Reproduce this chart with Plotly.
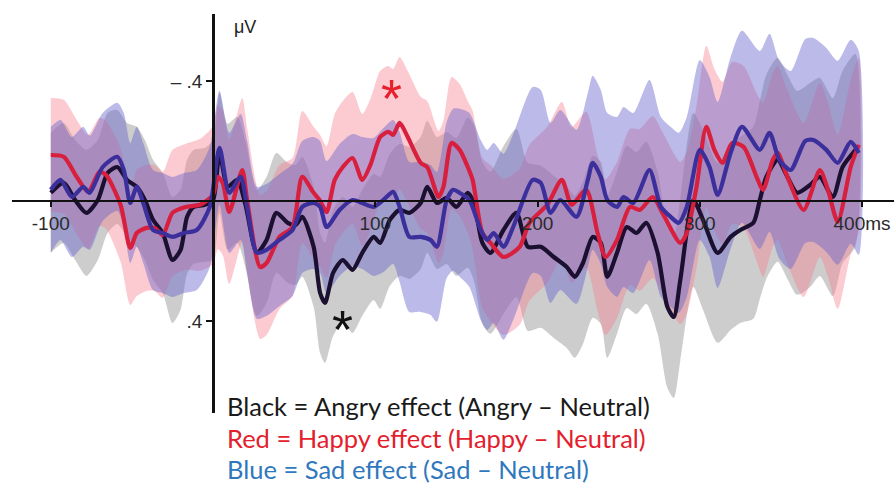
import plotly.graph_objects as go

# ---------------- data (ms, microvolts; positive plotted downward) ----------------
t_angry = [-100, -92, -85, -78, -71, -65, -59, -53, -47, -42,
           -37, -31, -25, -20, -16, -12, -5, 0, 4, 9,
           15, 20, 27, 33, 39, 46, 51, 55, 62, 66,
           69, 74, 80, 86, 92, 99, 103, 109, 115, 121,
           128, 132, 138, 144, 150, 157, 161, 166, 171, 179,
           187, 194, 202, 210, 218, 223, 228, 234, 239, 243,
           249, 255, 261, 267, 274, 280, 284, 288, 296, 302,
           311, 319, 325, 333, 337, 341, 348, 354, 360, 368,
           374, 382, 388, 396]
angry = [-0.027, -0.06, -0.003, 0.04, -0.003, -0.093, -0.113, -0.07, -0.047, -0.003,
         0.063, 0.107, 0.197, 0.163, 0.053, 0.02, 0.013, -0.003, -0.16, -0.047,
         -0.07, 0.013, 0.173, 0.13, 0.04, 0.073, 0.08, 0.053, 0.153, 0.307,
         0.34, 0.24, 0.197, 0.23, 0.173, 0.12, 0.14, 0.063, 0.03, 0.04,
         0.007, -0.047, 0.007, -0.01, 0.02, -0.027, 0.01, 0.14, 0.173, 0.097,
         0.04, 0.153, 0.153, 0.187, 0.22, 0.253, 0.207, 0.12, 0.14, 0.253,
         0.173, 0.087, 0.107, 0.073, 0.173, 0.353, 0.387, 0.263, -0.003, 0.063,
         0.173, 0.12, 0.097, 0.073, -0.003, -0.08, -0.137, -0.08, -0.027, -0.053,
         -0.08, -0.013, -0.113, -0.17]
angry_se = [0.20, 0.20, 0.20, 0.21, 0.20, 0.20, 0.19, 0.19, 0.20, 0.20,
            0.20, 0.20, 0.21, 0.20, 0.19, 0.19, 0.19, 0.20, 0.20, 0.21,
            0.21, 0.21, 0.21, 0.21, 0.20, 0.20, 0.20, 0.20, 0.20, 0.20,
            0.20, 0.21, 0.21, 0.21, 0.21, 0.21, 0.22, 0.22, 0.22, 0.22,
            0.22, 0.22, 0.22, 0.22, 0.23, 0.25, 0.26, 0.27, 0.27, 0.28,
            0.28, 0.28, 0.27, 0.27, 0.27, 0.27, 0.27, 0.27, 0.27, 0.27,
            0.27, 0.27, 0.27, 0.27, 0.27, 0.27, 0.27, 0.27, 0.29, 0.30,
            0.30, 0.31, 0.31, 0.32, 0.33, 0.34, 0.34, 0.34, 0.34, 0.34,
            0.33, 0.33, 0.32, 0.32]

t_happy = [-100, -92, -84, -77, -70, -66, -57, -51, -47, -41,
           -36, -31, -25, -17, -8, 0, 3, 6, 10, 18,
           21, 29, 33, 41, 49, 55, 62, 66, 70, 75,
           80, 86, 92, 97, 103, 108, 111, 115, 120, 128,
           132, 139, 142, 147, 152, 157, 160, 166, 171, 179,
           189, 195, 206, 215, 221, 230, 237, 242, 249, 257,
           263, 271, 277, 288, 292, 298, 304, 309, 314, 320,
           327, 335, 339, 345, 348, 354, 364, 374, 379, 385,
           393, 398]
happy = [-0.153, -0.147, -0.08, -0.03, -0.097, -0.087, 0.013, 0.157, 0.107, 0.09,
         0.09, 0.113, 0.04, 0.02, 0.013, -0.02, -0.08, -0.06, 0.037, -0.103,
         -0.003, 0.22, 0.207, 0.12, 0.087, -0.08, -0.027, 0.0, 0.037, -0.07,
         -0.113, -0.143, -0.07, -0.12, -0.213, -0.23, -0.22, -0.26, -0.213, -0.127,
         -0.113, -0.013, -0.047, -0.193, -0.17, -0.113, -0.07, 0.107, 0.14, 0.187,
         0.153, 0.073, 0.013, -0.07, 0.013, -0.037, 0.107, 0.187, 0.13, 0.02,
         0.03, -0.013, 0.04, 0.14, 0.107, -0.047, -0.247, -0.17, -0.127, -0.193,
         -0.18, -0.08, -0.037, -0.137, -0.16, -0.08, 0.03, -0.103, -0.037, 0.07,
         -0.113, -0.187]
happy_se = [0.19, 0.19, 0.19, 0.19, 0.18, 0.18, 0.19, 0.19, 0.21, 0.21,
            0.21, 0.21, 0.21, 0.21, 0.22, 0.23, 0.24, 0.24, 0.24, 0.24,
            0.24, 0.24, 0.24, 0.24, 0.23, 0.22, 0.22, 0.22, 0.22, 0.22,
            0.22, 0.22, 0.22, 0.22, 0.22, 0.22, 0.22, 0.22, 0.22, 0.22,
            0.22, 0.22, 0.22, 0.22, 0.22, 0.22, 0.23, 0.25, 0.26, 0.26,
            0.26, 0.26, 0.26, 0.26, 0.26, 0.26, 0.26, 0.26, 0.26, 0.26,
            0.27, 0.27, 0.27, 0.27, 0.27, 0.27, 0.27, 0.27, 0.27, 0.27,
            0.27, 0.28, 0.29, 0.29, 0.29, 0.29, 0.29, 0.29, 0.29, 0.29,
            0.29, 0.29]

t_sad = [-100, -94, -87, -80, -76, -68, -59, -55, -51, -47,
         -43, -37, -31, -25, -18, -10, -2, 4, 10, 17,
         21, 27, 33, 41, 49, 55, 62, 66, 70, 78,
         86, 92, 99, 105, 111, 115, 121, 128, 134, 138,
         144, 148, 152, 158, 165, 169, 173, 179, 185, 197,
         202, 208, 214, 224, 231, 234, 239, 243, 249, 253,
         259, 269, 276, 282, 287, 292, 300, 306, 311, 319,
         326, 337, 343, 349, 356, 365, 370, 378, 385, 393,
         398]
sad = [-0.037, -0.07, -0.013, -0.047, -0.027, -0.113, -0.147, -0.103, 0.007, -0.047,
       0.007, 0.097, 0.107, 0.12, 0.107, 0.097, 0.02, -0.177, -0.027, -0.08,
       0.02, 0.173, 0.163, 0.13, 0.097, 0.02, 0.007, 0.02, 0.087, 0.03,
       -0.003, 0.007, 0.02, -0.003, -0.03, 0.02, 0.12, 0.12, 0.13, 0.153,
       -0.003, -0.037, -0.027, -0.003, 0.097, 0.13, 0.107, 0.153, 0.087, -0.07,
       -0.06, 0.04, -0.003, 0.053, -0.07, -0.127, -0.08, -0.003, 0.02, -0.013,
       0.007, -0.103, 0.02, 0.053, 0.073, 0.02, -0.17, -0.113, -0.02, -0.16,
       -0.247, -0.17, -0.227, -0.137, -0.103, -0.2, -0.203, -0.17, -0.127, -0.197,
       -0.16]
sad_se = [0.21, 0.20, 0.20, 0.20, 0.19, 0.18, 0.18, 0.19, 0.20, 0.20,
          0.20, 0.20, 0.20, 0.20, 0.20, 0.20, 0.20, 0.19, 0.20, 0.21,
          0.22, 0.22, 0.22, 0.22, 0.22, 0.22, 0.22, 0.22, 0.22, 0.22,
          0.22, 0.22, 0.23, 0.24, 0.24, 0.25, 0.25, 0.25, 0.25, 0.25,
          0.26, 0.27, 0.28, 0.29, 0.30, 0.30, 0.30, 0.31, 0.31, 0.31,
          0.31, 0.30, 0.30, 0.29, 0.29, 0.29, 0.29, 0.29, 0.30, 0.30,
          0.30, 0.30, 0.30, 0.30, 0.30, 0.30, 0.30, 0.30, 0.31, 0.32,
          0.32, 0.33, 0.33, 0.33, 0.33, 0.34, 0.34, 0.34, 0.34, 0.34,
          0.34]

x_tick_vals = [-100, 100, 200, 300, 400]
x_tick_text = ["-100", "100", "200", "300", "400ms"]
y_tick_vals = [-0.4, 0.4]
y_tick_text = ["\u2013 .4", ".4"]

legend_lines = [
    ("Black = Angry effect (Angry \u2013 Neutral)", "#1a1a1a"),
    ("Red = Happy effect (Happy \u2013 Neutral)", "#e3202c"),
    ("Blue = Sad effect (Sad \u2013 Neutral)", "#2f78bd"),
]

# ---------------- styles ----------------
W, H = 894, 489
BAND = {"angry": "rgba(145,145,145,0.45)", "happy": "rgba(246,125,140,0.40)",
        "sad": "rgba(100,95,205,0.43)"}
LINE = {"angry": "#1c1030", "happy": "#d81f3d", "sad": "#3b2f9c"}


def band(t, v, se, color):
    up = [a - s for a, s in zip(v, se)]
    lo = [a + s for a, s in zip(v, se)]
    return go.Scatter(x=list(t) + list(t[::-1]), y=up + lo[::-1], mode="lines",
                      fill="toself", fillcolor=color,
                      line=dict(width=0, shape="spline", smoothing=0.7),
                      hoverinfo="skip", showlegend=False)


def line(t, v, color):
    return go.Scatter(x=t, y=v, mode="lines",
                      line=dict(color=color, width=4.2, shape="spline", smoothing=0.7),
                      hoverinfo="skip", showlegend=False)


fig = go.Figure()
fig.add_trace(band(t_angry, angry, angry_se, BAND["angry"]))
fig.add_trace(band(t_happy, happy, happy_se, BAND["happy"]))
fig.add_trace(band(t_sad, sad, sad_se, BAND["sad"]))
fig.add_trace(line(t_angry, angry, LINE["angry"]))
fig.add_trace(line(t_happy, happy, LINE["happy"]))
fig.add_trace(line(t_sad, sad, LINE["sad"]))

axis_font = dict(family="Liberation Sans, Arial, sans-serif", size=19, color="#2a2a2a")

fig.update_layout(
    width=W, height=H, margin=dict(l=0, r=0, t=0, b=0, autoexpand=False),
    paper_bgcolor="white", plot_bgcolor="rgba(0,0,0,0)",
    showlegend=False,
    xaxis=dict(domain=[12 / W, 1], range=[-123.9, 419.7], anchor="free",
               position=1 - 201 / H, automargin=False,
               showline=True, linecolor="#111", linewidth=2,
               ticks="outside", ticklen=5, tickwidth=1.5, tickcolor="#111",
               tickvals=x_tick_vals, ticktext=x_tick_text, tickfont=axis_font,
               showgrid=False, zeroline=False),
    yaxis=dict(domain=[1 - 413 / H, 1 - 14 / H], range=[0.707, -0.623], anchor="free",
               position=213 / W, automargin=False,
               showline=True, linecolor="#111", linewidth=2.5,
               ticks="outside", ticklen=6, tickwidth=1.5, tickcolor="#111",
               tickvals=y_tick_vals, ticktext=y_tick_text, tickfont=axis_font,
               showgrid=False, zeroline=False),
)

fig.add_annotation(x=20, y=-0.58, xref="x", yref="y", text="\u03bcV", showarrow=False,
                   font=dict(family="Liberation Sans, Arial, sans-serif", size=18, color="#222"))
fig.add_annotation(x=110, y=-0.373, xref="x", yref="y", text="*", showarrow=False, yshift=-9,
                   font=dict(family="Liberation Sans, Arial, sans-serif", size=54, color="#e8202e"))
fig.add_annotation(x=80, y=0.397, xref="x", yref="y", text="*", showarrow=False, yshift=-9,
                   font=dict(family="Liberation Sans, Arial, sans-serif", size=54, color="#111"))

legend_y = [406, 438, 469]
for (txt, col), py in zip(legend_lines, legend_y):
    fig.add_annotation(x=225 / W, y=1 - py / H, xref="paper", yref="paper", text=txt,
                       showarrow=False, xanchor="left", yanchor="middle",
                       font=dict(family="Lato, Carlito, sans-serif", size=25.5, color=col))

fig.write_html("out.html", config={"displayModeBar": False},
               post_script="document.body.style.margin='0';document.body.style.overflow='hidden';")
